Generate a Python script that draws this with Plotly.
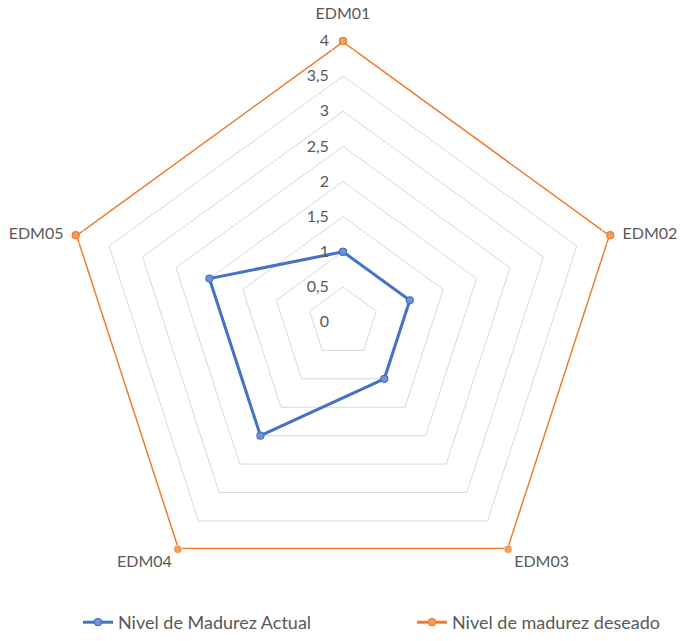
import plotly.graph_objects as go

categorias = ["EDM01", "EDM02", "EDM03", "EDM04", "EDM05"]
nivel_actual = [1, 1, 1, 2, 2]
nivel_deseado = [4, 4, 4, 4, 4]
ticks_radiales = [0, 0.5, 1, 1.5, 2, 2.5, 3, 3.5, 4]
r_max = 4

AZUL = "#4472C4"
NARANJA = "#ED7D31"
GRIS_TEXTO = "#595959"
GRIS_REJILLA = "#D9D9D9"

W, H = 682, 641
cx, cy, radio = 343, 322, 281

# posición de cada etiqueta de categoría respecto a su vértice
pos_etiquetas = ["top center", "middle right", "bottom right", "bottom left", "middle left"]
# separación de la etiqueta (tamaño del marcador invisible que la acompaña)
sep_etiquetas = [28, 18, 8, 8, 18]


def cerrar(valores):
    return list(valores) + [valores[0]]


fig = go.Figure()
fig.add_trace(go.Scatterpolar(
    r=cerrar(nivel_actual), theta=cerrar(categorias),
    mode="lines+markers", name="Nivel de Madurez Actual",
    line=dict(color=AZUL, width=3),
    marker=dict(size=7, color="#7393D3", line=dict(color=AZUL, width=1.2)),
    legend="legend",
))
fig.add_trace(go.Scatterpolar(
    r=cerrar(nivel_deseado), theta=cerrar(categorias),
    mode="lines+markers", name="Nivel de madurez deseado",
    line=dict(color=NARANJA, width=3),
    marker=dict(size=7, color="#F29D62", line=dict(color=NARANJA, width=1.2)),
    legend="legend2",
))
# etiquetas de categoría en los vértices exteriores
fig.add_trace(go.Scatterpolar(
    r=[r_max] * len(categorias), theta=categorias,
    mode="markers+text", text=categorias,
    textposition=pos_etiquetas,
    textfont=dict(size=16, color=GRIS_TEXTO),
    marker=dict(size=sep_etiquetas, color="rgba(0,0,0,0)"),
    cliponaxis=False, hoverinfo="skip", showlegend=False,
))

leyenda_base = dict(
    orientation="h", xanchor="left",
    y=0, yanchor="bottom",
    font=dict(size=18, color=GRIS_TEXTO),
    bgcolor="rgba(0,0,0,0)",
)

fig.update_layout(
    width=W, height=H,
    margin=dict(l=0, r=0, t=0, b=0),
    paper_bgcolor="white",
    separators=",.",
    font=dict(family="Lato, Open Sans, sans-serif", size=16, color=GRIS_TEXTO),
    polar=dict(
        bgcolor="white",
        gridshape="linear",
        domain=dict(
            x=[(cx - radio) / W, (cx + radio) / W],
            y=[1 - (cy + radio) / H, 1 - (cy - radio) / H],
        ),
        angularaxis=dict(
            direction="clockwise", rotation=90,
            showgrid=False, showline=False, ticks="",
            showticklabels=False,
        ),
        radialaxis=dict(
            range=[0, r_max], tickvals=ticks_radiales,
            angle=90, tickangle=90, side="counterclockwise",
            showline=False,
            ticks="outside", ticklen=8, tickcolor="rgba(0,0,0,0)",
            gridcolor=GRIS_REJILLA, gridwidth=1,
            tickfont=dict(size=16, color=GRIS_TEXTO),
        ),
    ),
    showlegend=True,
    legend=dict(leyenda_base, x=78 / W),
    legend2=dict(leyenda_base, x=412 / W),
)

fig.write_html("out.html")
